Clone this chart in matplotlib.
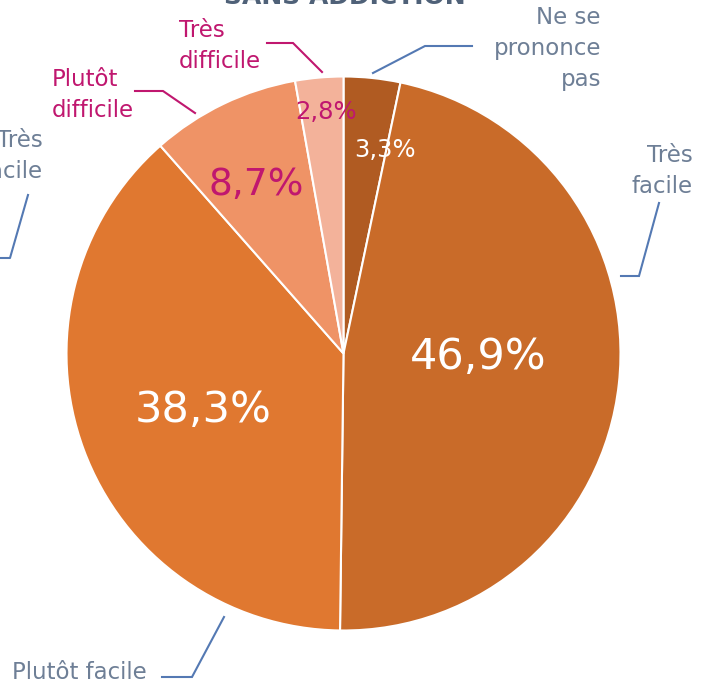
import matplotlib
matplotlib.use("Agg")
import matplotlib.pyplot as plt

plt.rcParams['font.family'] = ['DejaVu Sans']

# data
categories = ["Ne se\nprononce\npas", "Très\nfacile", "Plutôt facile", "Plutôt\ndifficile", "Très\ndifficile"]
values = [3.3, 46.9, 38.3, 8.7, 2.8]
colors = ["#B05B22", "#C96B29", "#E07830", "#EF9366", "#F3B29A"]

GREY = "#6E7F96"
BLUE = "#5479B3"
MAG = "#C0176F"

fig = plt.figure(figsize=(7.11, 6.83), dpi=100)
ax = fig.add_axes([0, 0, 1, 1])

# pixel-like coordinates, y pointing down
cx, cy, R = 343.5, 353.5, 277
ax.pie(values, colors=colors, startangle=-90, counterclock=True,
       center=(cx, cy), radius=R,
       wedgeprops=dict(edgecolor="white", linewidth=1.5))
ax.set_xlim(0, 711)
ax.set_ylim(683, 0)
ax.axis("off")

# percent labels (position, size, colour)
pct_style = [
    ((385, 150), 17.5, "white"),
    ((478, 357), 31, "white"),
    ((203, 410), 31, "white"),
    ((256, 185), 27, MAG),
    ((326, 112), 17.5, MAG),
]
for v, (pos, fs, col) in zip(values, pct_style):
    ax.text(pos[0], pos[1], f"{v:.1f}%".replace(".", ","), ha="center", va="center",
            fontsize=fs, color=col)

# category labels: text pos (last baseline), alignment, colour, leader line
lab_style = [
    ((601, 86), "right", GREY, BLUE, [(373, 73), (425, 46), (472, 46)]),
    ((693, 193), "right", GREY, BLUE, [(621, 276), (639, 276), (659, 203)]),
    ((12, 679), "left", GREY, BLUE, [(162, 677), (192, 677), (224, 617)]),
    ((52, 117), "left", MAG, MAG, [(135, 91), (163, 91), (195, 113)]),
    ((179, 68), "left", MAG, MAG, [(267, 43), (293, 43), (322, 72)]),
]
for lab, (pos, ha, tcol, lcol, line) in zip(categories, lab_style):
    ax.text(pos[0], pos[1], lab, ha=ha, va="baseline", fontsize=16.5, color=tcol,
            linespacing=1.45, multialignment=ha)
    ax.plot([p[0] for p in line], [p[1] for p in line], color=lcol, lw=1.5,
            solid_joinstyle="miter")

# neighbouring chart label cut at the left edge
ax.text(43, 178, "Très\nfacile", ha="right", va="baseline", fontsize=16.5, color=GREY,
        linespacing=1.45, multialignment="right")
ax.plot([28, 10, -10], [195, 258, 258], color=BLUE, lw=1.5)

# title, cut at the top edge
ax.text(345, 4, "SANS ADDICTION", ha="center", va="baseline", fontsize=18,
        fontweight="bold", color="#4F6178")

fig.savefig("out.png", dpi=100)
